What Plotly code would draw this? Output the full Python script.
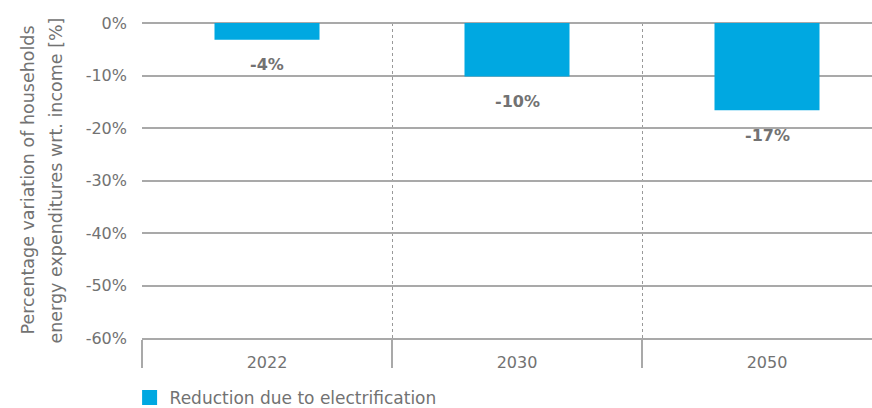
import plotly.graph_objects as go

categories = ["2022", "2030", "2050"]
values = [-3.2, -10.2, -16.6]
value_labels = ["-4%", "-10%", "-17%"]
series_name = "Reduction due to electrification"
y_tickvals = [0, -10, -20, -30, -40, -50, -60]
y_ticktext = ["0%", "-10%", "-20%", "-30%", "-40%", "-50%", "-60%"]
title_lines = ["Percentage variation of households", "energy expenditures wrt. income [%]"]

FONT = "DejaVu Sans"
TXT = "#727272"
GRID = "#a9a9a9"
BAR = "#00a8e1"

fig = go.Figure()
fig.add_trace(go.Bar(
    x=categories, y=values, width=0.42, marker=dict(color=BAR, line=dict(width=0)),
    showlegend=False, hoverinfo="skip",
))
# legend proxy with a larger square symbol
fig.add_trace(go.Scatter(
    x=[categories[0]], y=[None], mode="markers", name=series_name,
    marker=dict(symbol="square", size=15, color=BAR), hoverinfo="skip",
))

for i, (v, t) in enumerate(zip(values, value_labels)):
    fig.add_annotation(x=i, y=v, xref="x", yref="y", text="<b>%s</b>" % t, showarrow=False,
                       yanchor="middle", yshift=-25,
                       font=dict(family=FONT, size=16, color=TXT))

fig.add_annotation(xref="paper", yref="paper", x=0, y=0.5, text=title_lines[0],
                   textangle=-90, showarrow=False, xanchor="center", yanchor="middle",
                   xshift=-115, font=dict(family=FONT, size=17.5, color=TXT))
fig.add_annotation(xref="paper", yref="paper", x=0, y=0.5, text=title_lines[1],
                   textangle=-90, showarrow=False, xanchor="center", yanchor="middle",
                   xshift=-87, font=dict(family=FONT, size=17.5, color=TXT))

fig.update_layout(
    width=872, height=408, autosize=False,
    margin=dict(l=142, r=0, t=23, b=70, pad=0, autoexpand=False),
    plot_bgcolor="white", paper_bgcolor="white",
    font=dict(family=FONT, size=16, color=TXT),
    showlegend=True,
    legend=dict(orientation="h", x=-0.017, xanchor="left", y=-0.19, yanchor="middle",
                font=dict(family=FONT, size=17, color=TXT), itemsizing="trace"),
    xaxis=dict(
        type="category", range=[-0.5, 2.42], tickson="boundaries", automargin=False,
        ticks="outside", ticklen=28, tickcolor=GRID, tickwidth=1.5,
        showgrid=True, gridcolor="#999999", gridwidth=1, griddash="dot",
        showline=True, linecolor=GRID, linewidth=1.5,
        ticklabelstandoff=9,
        tickfont=dict(family=FONT, size=16, color=TXT),
    ),
    yaxis=dict(
        range=[-60, 0], tickvals=y_tickvals, ticktext=y_ticktext, automargin=False,
        showgrid=True, gridcolor=GRID, gridwidth=1.5,
        zeroline=True, zerolinecolor=GRID, zerolinewidth=1.5,
        showline=False, ticks="", ticklabelstandoff=14,
        tickfont=dict(family=FONT, size=16, color=TXT),
    ),
)

fig.write_html("out.html", config={"displayModeBar": False},
               post_script="document.body.style.margin='0';")
